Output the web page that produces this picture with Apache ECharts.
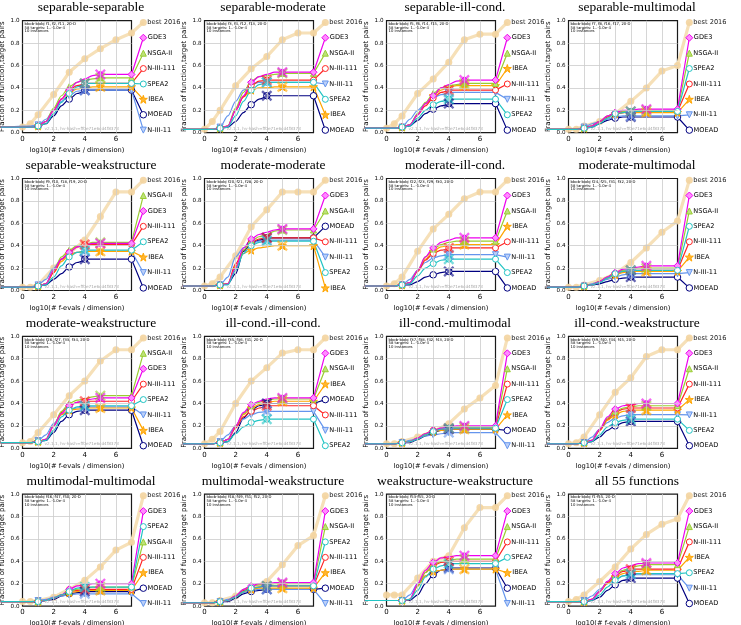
<!DOCTYPE html>
<html>
<head>
<meta charset="utf-8">
<script src="https://cdn.jsdelivr.net/npm/echarts@6/dist/echarts.min.js"></script>
<style>
html,body{margin:0;padding:0;background:#fff;}
#main{width:741px;height:625px;}
</style>
</head>
<body>
<div id="main"></div>
<script>
// x positions (log10 evals/dim) of the sampled curve points
var XS = [-1.4, 0.5, 1, 1.5, 2, 2.5, 3, 3.5, 4, 4.5, 5];
var XB = [0, 0.5, 1, 2, 3, 4, 5, 6, 7];
var PLATEAU_X = 7, LEGEND_X = 7.76;
var legendY = [0.985, 0.848, 0.71, 0.573, 0.435, 0.298, 0.16, 0.023];
var gridX = [1, 2, 3, 4, 5, 6];
var gridY = [0.2, 0.4, 0.6, 0.8];

var titles = ['separable-separable','separable-moderate','separable-ill-cond.','separable-multimodal',
  'separable-weakstructure','moderate-moderate','moderate-ill-cond.','moderate-multimodal',
  'moderate-weakstructure','ill-cond.-ill-cond.','ill-cond.-multimodal','ill-cond.-weakstructure',
  'multimodal-multimodal','multimodal-weakstructure','weakstructure-weakstructure','all 55 functions'];
var funcs = ['f1, f2, f11','f3, f4, f12, f13','f5, f6, f14, f15','f7, f8, f16, f17',
  'f9, f10, f18, f19','f20, f21, f28','f22, f23, f29, f30','f24, f25, f31, f32',
  'f26, f27, f33, f34','f35, f36, f41','f37, f38, f42, f43','f39, f40, f44, f45',
  'f46, f47, f50','f48, f49, f51, f52','f53-f55','f1-f55'];

var legendOrder = [
  ['best 2016','GDE3','NSGA-II','N-III-111','SPEA2','IBEA','MOEAD','N-III-11'],
  ['best 2016','GDE3','NSGA-II','N-III-111','N-III-11','SPEA2','IBEA','MOEAD'],
  ['best 2016','GDE3','NSGA-II','IBEA','N-III-111','N-III-11','SPEA2','MOEAD'],
  ['best 2016','GDE3','NSGA-II','SPEA2','N-III-111','IBEA','N-III-11','MOEAD'],
  ['best 2016','NSGA-II','GDE3','N-III-111','SPEA2','IBEA','N-III-11','MOEAD'],
  ['best 2016','GDE3','NSGA-II','MOEAD','N-III-111','N-III-11','SPEA2','IBEA'],
  ['best 2016','GDE3','NSGA-II','IBEA','N-III-111','N-III-11','SPEA2','MOEAD'],
  ['best 2016','GDE3','NSGA-II','SPEA2','N-III-111','IBEA','N-III-11','MOEAD'],
  ['best 2016','NSGA-II','GDE3','N-III-111','SPEA2','N-III-11','IBEA','MOEAD'],
  ['best 2016','GDE3','NSGA-II','IBEA','MOEAD','N-III-111','N-III-11','SPEA2'],
  ['best 2016','GDE3','NSGA-II','N-III-111','SPEA2','IBEA','MOEAD','N-III-11'],
  ['best 2016','GDE3','NSGA-II','N-III-111','IBEA','N-III-11','SPEA2','MOEAD'],
  ['best 2016','GDE3','SPEA2','NSGA-II','N-III-111','IBEA','MOEAD','N-III-11'],
  ['best 2016','GDE3','NSGA-II','SPEA2','N-III-111','IBEA','MOEAD','N-III-11'],
  ['best 2016','GDE3','NSGA-II','N-III-111','SPEA2','IBEA','MOEAD','N-III-11'],
  ['best 2016','GDE3','NSGA-II','N-III-111','IBEA','SPEA2','N-III-11','MOEAD']
];

// best 2016 at XB
var best2016 = [
  [0.05,0.08,0.16,0.34,0.54,0.66,0.75,0.83,0.89],
  [0.03,0.1,0.2,0.42,0.57,0.68,0.83,0.89,0.89],
  [0.04,0.08,0.15,0.35,0.48,0.63,0.83,0.88,0.88],
  [0.03,0.03,0.06,0.1,0.17,0.28,0.4,0.55,0.6],
  [0.03,0.03,0.05,0.2,0.33,0.45,0.66,0.88,0.88],
  [0.04,0.06,0.12,0.31,0.57,0.72,0.88,0.88,0.88],
  [0.04,0.06,0.12,0.35,0.55,0.68,0.82,0.88,0.88],
  [0.03,0.03,0.05,0.09,0.15,0.25,0.38,0.52,0.62],
  [0.05,0.06,0.14,0.3,0.47,0.6,0.78,0.88,0.88],
  [0.04,0.08,0.15,0.4,0.6,0.72,0.85,0.88,0.88],
  [0.04,0.04,0.06,0.1,0.15,0.22,0.35,0.45,0.56],
  [0.04,0.05,0.1,0.3,0.5,0.63,0.82,0.88,0.88],
  [0.04,0.04,0.05,0.08,0.15,0.23,0.35,0.5,0.57],
  [0.03,0.03,0.05,0.09,0.16,0.22,0.37,0.54,0.63],
  [0.1,0.1,0.1,0.25,0.4,0.45,0.7,0.88,0.88],
  [0.04,0.06,0.1,0.22,0.35,0.51,0.64,0.73,0.78]
];

// algorithms at XS (11 values = budget 1e5, 9 values = budget 1e4)
var gde3 = [
  [0.05,0.05,0.06,0.1,0.2,0.3,0.38,0.45,0.48,0.51,0.52],
  [0.03,0.03,0.04,0.06,0.2,0.33,0.45,0.5,0.52,0.54,0.54],
  [0.04,0.04,0.05,0.07,0.16,0.26,0.33,0.4,0.43,0.46,0.47],
  [0.03,0.03,0.04,0.06,0.1,0.15,0.18,0.2,0.2,0.21,0.21],
  [0.03,0.03,0.04,0.06,0.18,0.28,0.34,0.39,0.41,0.42,0.42],
  [0.04,0.04,0.05,0.06,0.2,0.38,0.46,0.5,0.52,0.54,0.55],
  [0.04,0.04,0.05,0.07,0.18,0.3,0.38,0.43,0.45,0.47,0.47],
  [0.03,0.03,0.04,0.05,0.08,0.12,0.16,0.19,0.2,0.21,0.22],
  [0.05,0.05,0.06,0.08,0.2,0.31,0.38,0.41,0.43,0.44,0.45],
  [0.04,0.04,0.05,0.08,0.2,0.32,0.39,0.42,0.44,0.45,0.45],
  [0.04,0.04,0.05,0.06,0.09,0.13,0.16,0.18,0.19,0.2,0.2],
  [0.04,0.04,0.05,0.07,0.17,0.28,0.35,0.38,0.39,0.4,0.4],
  [0.04,0.04,0.04,0.05,0.07,0.1,0.15,0.18,0.19,0.2,0.2],
  [0.03,0.03,0.04,0.05,0.09,0.15,0.18,0.2,0.2,0.21,0.21],
  [0.05,0.05,0.05,0.06,0.2,0.32,0.39,0.43,0.44,0.45,0.45],
  [0.04,0.04,0.04,0.06,0.13,0.22,0.29,0.34,0.36,0.38,0.385]
];
var nsga2 = [
  [0.05,0.05,0.06,0.1,0.22,0.33,0.41,0.45,0.47,0.48,0.49],
  [0.03,0.03,0.04,0.06,0.22,0.36,0.46,0.5,0.51,0.52,0.53],
  [0.04,0.04,0.05,0.07,0.17,0.27,0.35,0.4,0.42,0.43,0.44],
  [0.03,0.03,0.04,0.06,0.1,0.15,0.18,0.19,0.2,0.2,0.2],
  [0.03,0.03,0.04,0.06,0.18,0.3,0.36,0.4,0.41,0.43,0.43],
  [0.04,0.04,0.05,0.06,0.2,0.36,0.44,0.48,0.5,0.53,0.54],
  [0.04,0.04,0.05,0.07,0.18,0.3,0.37,0.41,0.43,0.44,0.44],
  [0.03,0.03,0.04,0.05,0.08,0.12,0.16,0.18,0.19,0.2,0.2],
  [0.05,0.05,0.06,0.08,0.2,0.33,0.4,0.43,0.44,0.46,0.47],
  [0.04,0.04,0.05,0.08,0.2,0.31,0.38,0.41,0.43,0.44,0.44],
  [0.04,0.04,0.05,0.06,0.09,0.13,0.16,0.18,0.19,0.19,0.19],
  [0.04,0.04,0.05,0.07,0.17,0.27,0.33,0.36,0.37,0.38,0.38],
  [0.04,0.04,0.04,0.05,0.07,0.1,0.13,0.15,0.16,0.17,0.17],
  [0.03,0.03,0.04,0.05,0.09,0.15,0.18,0.19,0.19,0.2,0.2],
  [0.05,0.05,0.05,0.06,0.18,0.3,0.37,0.4,0.41,0.42,0.42],
  [0.04,0.04,0.04,0.06,0.13,0.22,0.28,0.32,0.34,0.36,0.37]
];
var ibea = [
  [0.05,0.05,0.06,0.1,0.2,0.3,0.36,0.39,0.4,0.41,0.41],
  [0.03,0.03,0.04,0.06,0.2,0.32,0.38,0.4,0.4,0.41,0.41],
  [0.04,0.04,0.05,0.07,0.16,0.26,0.33,0.38,0.41,0.42,0.42],
  [0.03,0.03,0.04,0.06,0.1,0.14,0.17,0.18,0.18,0.18,0.18],
  [0.03,0.03,0.04,0.06,0.16,0.26,0.32,0.34,0.35,0.35,0.35],
  [0.04,0.04,0.05,0.06,0.22,0.33,0.36,0.38,0.39,0.4,0.4],
  [0.04,0.04,0.05,0.07,0.17,0.28,0.35,0.39,0.4,0.41,0.41],
  [0.03,0.03,0.04,0.05,0.08,0.11,0.14,0.16,0.17,0.17,0.17],
  [0.05,0.05,0.06,0.08,0.2,0.3,0.34,0.35,0.36,0.36,0.36],
  [0.04,0.04,0.05,0.08,0.2,0.3,0.36,0.39,0.41,0.42,0.42],
  [0.04,0.04,0.05,0.06,0.09,0.12,0.15,0.16,0.17,0.17,0.17],
  [0.04,0.04,0.05,0.07,0.16,0.25,0.3,0.33,0.34,0.34,0.34],
  [0.04,0.04,0.04,0.05,0.07,0.1,0.12,0.13,0.14,0.14,0.14],
  [0.03,0.03,0.04,0.05,0.08,0.13,0.15,0.16,0.16,0.16,0.16],
  [0.05,0.05,0.05,0.06,0.18,0.27,0.31,0.32,0.33,0.33,0.33],
  [0.04,0.04,0.04,0.06,0.13,0.2,0.26,0.29,0.31,0.31,0.32]
];
var n3_111 = [
  [0.05,0.05,0.06,0.1,0.2,0.3,0.38,0.42,0.44],
  [0.03,0.03,0.04,0.06,0.2,0.32,0.42,0.46,0.47],
  [0.04,0.04,0.05,0.07,0.16,0.24,0.31,0.36,0.38],
  [0.03,0.03,0.04,0.06,0.1,0.14,0.17,0.18,0.19],
  [0.03,0.03,0.04,0.06,0.16,0.28,0.34,0.39,0.41],
  [0.04,0.04,0.05,0.06,0.24,0.36,0.43,0.46,0.47],
  [0.04,0.04,0.05,0.07,0.17,0.27,0.33,0.36,0.38],
  [0.03,0.03,0.04,0.05,0.08,0.12,0.15,0.17,0.18],
  [0.05,0.05,0.06,0.08,0.2,0.32,0.38,0.41,0.42],
  [0.04,0.04,0.05,0.08,0.18,0.28,0.33,0.36,0.38],
  [0.04,0.04,0.05,0.06,0.09,0.13,0.16,0.17,0.18],
  [0.04,0.04,0.05,0.07,0.16,0.26,0.32,0.35,0.36],
  [0.04,0.04,0.04,0.05,0.07,0.1,0.13,0.14,0.15],
  [0.03,0.03,0.04,0.05,0.09,0.14,0.16,0.17,0.18],
  [0.05,0.05,0.05,0.06,0.18,0.3,0.36,0.39,0.4],
  [0.04,0.04,0.04,0.06,0.13,0.21,0.27,0.31,0.33]
];
var spea2 = [
  [0.05,0.05,0.06,0.08,0.17,0.27,0.35,0.41,0.44],
  [0.03,0.03,0.04,0.05,0.15,0.28,0.38,0.43,0.45],
  [0.04,0.04,0.05,0.06,0.13,0.2,0.25,0.28,0.3],
  [0.03,0.03,0.04,0.05,0.08,0.13,0.17,0.18,0.19],
  [0.03,0.03,0.04,0.05,0.12,0.22,0.3,0.34,0.36],
  [0.04,0.04,0.05,0.05,0.18,0.33,0.4,0.43,0.44],
  [0.04,0.04,0.05,0.06,0.13,0.2,0.24,0.27,0.28],
  [0.03,0.03,0.04,0.05,0.07,0.11,0.15,0.17,0.18],
  [0.05,0.05,0.06,0.07,0.16,0.28,0.34,0.37,0.38],
  [0.04,0.04,0.05,0.06,0.13,0.19,0.23,0.25,0.26],
  [0.04,0.04,0.05,0.06,0.08,0.12,0.15,0.17,0.18],
  [0.04,0.04,0.05,0.06,0.12,0.19,0.23,0.25,0.26],
  [0.04,0.04,0.04,0.05,0.07,0.1,0.13,0.16,0.17],
  [0.03,0.03,0.04,0.05,0.08,0.13,0.16,0.17,0.18],
  [0.05,0.05,0.05,0.06,0.14,0.26,0.33,0.36,0.38],
  [0.04,0.04,0.04,0.05,0.1,0.17,0.23,0.27,0.29]
];
var moead = [
  [0.05,0.05,0.06,0.08,0.15,0.24,0.3,0.35,0.38],
  [0.03,0.03,0.04,0.05,0.1,0.18,0.25,0.3,0.33],
  [0.04,0.04,0.05,0.06,0.11,0.17,0.21,0.24,0.26],
  [0.03,0.03,0.04,0.05,0.08,0.11,0.13,0.14,0.14],
  [0.03,0.03,0.04,0.05,0.1,0.15,0.21,0.25,0.28],
  [0.04,0.04,0.05,0.06,0.15,0.35,0.42,0.45,0.47],
  [0.04,0.04,0.05,0.05,0.08,0.12,0.14,0.16,0.17],
  [0.03,0.03,0.04,0.05,0.06,0.08,0.1,0.11,0.12],
  [0.05,0.05,0.06,0.07,0.14,0.24,0.3,0.33,0.34],
  [0.04,0.04,0.05,0.06,0.14,0.27,0.34,0.38,0.4],
  [0.04,0.04,0.05,0.05,0.08,0.11,0.14,0.16,0.17],
  [0.04,0.04,0.05,0.06,0.1,0.16,0.2,0.23,0.24],
  [0.04,0.04,0.04,0.05,0.06,0.09,0.11,0.12,0.13],
  [0.03,0.03,0.04,0.04,0.07,0.11,0.13,0.14,0.15],
  [0.05,0.05,0.05,0.05,0.1,0.2,0.28,0.32,0.34],
  [0.04,0.04,0.04,0.05,0.08,0.14,0.19,0.23,0.25]
];
var n3_11 = [
  [0.05,0.06,0.07,0.12,0.2,0.28,0.33,0.37,0.38],
  [0.03,0.03,0.05,0.15,0.28,0.38,0.43,0.45,0.45],
  [0.04,0.04,0.05,0.12,0.2,0.26,0.31,0.34,0.36],
  [0.03,0.03,0.05,0.08,0.1,0.12,0.14,0.15,0.15],
  [0.03,0.03,0.05,0.1,0.2,0.28,0.32,0.34,0.35],
  [0.04,0.04,0.05,0.12,0.3,0.38,0.42,0.44,0.45],
  [0.04,0.04,0.05,0.1,0.18,0.25,0.29,0.31,0.32],
  [0.03,0.03,0.04,0.06,0.08,0.1,0.12,0.14,0.15],
  [0.05,0.05,0.07,0.12,0.22,0.3,0.34,0.36,0.37],
  [0.04,0.04,0.06,0.12,0.2,0.26,0.3,0.32,0.33],
  [0.04,0.04,0.05,0.07,0.09,0.11,0.12,0.13,0.14],
  [0.04,0.04,0.05,0.1,0.17,0.23,0.27,0.29,0.3],
  [0.04,0.04,0.05,0.06,0.08,0.09,0.1,0.11,0.11],
  [0.03,0.03,0.04,0.06,0.09,0.12,0.14,0.15,0.15],
  [0.05,0.05,0.05,0.1,0.2,0.27,0.3,0.32,0.33],
  [0.04,0.04,0.05,0.09,0.15,0.2,0.24,0.27,0.28]
];

var STAR = 'path://M5,0 L6.2,3.6 L10,3.6 L7,5.9 L8.1,9.5 L5,7.3 L1.9,9.5 L3,5.9 L0,3.6 L3.8,3.6 Z';
var TRI_DOWN = 'path://M0,0 L10,0 L5,9 Z';
var CROSS = 'path://M0,1.5 L1.5,0 L5,3.5 L8.5,0 L10,1.5 L6.5,5 L10,8.5 L8.5,10 L5,6.5 L1.5,10 L0,8.5 L3.5,5 Z';

// draw order, last on top
var algos = ['MOEAD','N-III-11','IBEA','N-III-111','NSGA-II','GDE3','SPEA2'];
var styles = {
  'GDE3':      {vals: gde3,   color:'#ee00ee', fill:'#ff8cff', symbol:'diamond', size:7},
  'NSGA-II':   {vals: nsga2,  color:'#9acd32', fill:'#bde27a', symbol:'triangle', size:6},
  'N-III-111': {vals: n3_111, color:'#ff2424', fill:'#ffffff', symbol:'circle', size:6},
  'SPEA2':     {vals: spea2,  color:'#22c4c4', fill:'#ffffff', symbol:'circle', size:6},
  'IBEA':      {vals: ibea,   color:'#ffa500', fill:'#ffb733', symbol:STAR, size:8},
  'MOEAD':     {vals: moead,  color:'#000080', fill:'#ffffff', symbol:'circle', size:6.5},
  'N-III-11':  {vals: n3_11,  color:'#6495ed', fill:'#bcd0f8', symbol:TRI_DOWN, size:6}
};

// x axis runs -2..9 so the lines that leave the frame are not clipped
var X_MIN = -2, X_MAX = 9;
var COL0 = 22.5, COLSTEP = 182, ROW0 = 20.7, ROWSTEP = 157.8, PH = 112;
var UNIT = 109 / 7;
var FONT = 'DejaVu Sans';

function evenLabel(v){ return (v >= 0 && v <= 6 && v % 2 === 0) ? String(v) : ''; }
function oneDecimal(v){ return v.toFixed(1); }
function legendLabel(){
  return {show:false, position:'right', distance:0.5, fontSize:6.6, fontFamily:FONT, color:'#000', formatter:'{a}'};
}

function buildOption(){
  var grids = [], xAxes = [], yAxes = [], series = [], graphics = [];

  for (var p = 0; p < 16; p++) {
    var col = p % 4, row = Math.floor(p / 4);
    var x0 = COL0 + COLSTEP * col, gTop = ROW0 + ROWSTEP * row;

    grids.push({left:x0 + X_MIN * UNIT, top:gTop, width:(X_MAX - X_MIN) * UNIT, height:PH,
      show:false, containLabel:false, outerBoundsMode:'none'});
    xAxes.push({
      type:'value', gridIndex:p, min:X_MIN, max:X_MAX, interval:1,
      axisLine:{show:false}, axisTick:{show:false}, splitLine:{show:false},
      axisLabel:{fontSize:7, fontFamily:FONT, color:'#000', margin:3, formatter:evenLabel},
      name:'log10(# f-evals / dimension)', nameLocation:'middle', nameGap:14,
      nameTextStyle:{fontSize:6.7, fontFamily:FONT, color:'#000'}
    });
    yAxes.push({
      type:'value', gridIndex:p, min:0, max:1, interval:0.2, offset:X_MIN * UNIT,
      axisLine:{show:false}, axisTick:{show:false}, splitLine:{show:false},
      axisLabel:{fontSize:5.6, fontFamily:FONT, color:'#000', margin:3, formatter:oneDecimal},
      name:'Fraction of function,target pairs', nameLocation:'middle', nameGap:17, nameRotate:90,
      nameTextStyle:{fontSize:7, fontFamily:FONT, color:'#000'}
    });

    //title and tiny annotations
    graphics.push({type:'text', x:x0 + 68.5, y:gTop - 13, silent:true,
      style:{text:titles[p], font:'13.5px "Liberation Serif"', fill:'#000', align:'center', verticalAlign:'middle'}});
    graphics.push({type:'text', x:x0 + 2, y:gTop + 1.5, silent:true, z:10,
      style:{text:'bbob-biobj ' + funcs[p] + ', 20-D\n58 targets: 1..-1.0e-4\n10 instances', font:'3.8px "DejaVu Sans"', lineHeight:3.7, fill:'#000'}});
    graphics.push({type:'text', x:x0 + 22, y:gTop + PH - 6, silent:true, z:10,
      style:{text:'v2.1.1, hv-hash=ff0e71e6cd4f8373', font:'4.2px "DejaVu Sans"', fill:'#aaaaaa'}});

    // grid lines and frame, only over 0..7 x 0..1
    var gl = [];
    for (var gx = 0; gx < gridX.length; gx++) gl.push([{coord:[gridX[gx], 0]}, {coord:[gridX[gx], 1]}]);
    for (var gy = 0; gy < gridY.length; gy++) gl.push([{coord:[0, gridY[gy]]}, {coord:[PLATEAU_X, gridY[gy]]}]);
    series.push({
      type:'line', name:'frame', xAxisIndex:p, yAxisIndex:p, silent:true, z:0, data:[],
      markLine:{silent:true, symbol:['none','none'], label:{show:false}, animation:false,
        lineStyle:{color:'#cccccc', width:0.8, type:'solid'}, data:gl},
      markArea:{silent:true, animation:false, label:{show:false},
        itemStyle:{color:'rgba(0,0,0,0)', borderColor:'#1a1a1a', borderWidth:1.2},
        data:[[{coord:[0, 0]}, {coord:[PLATEAU_X, 1]}]]}
    });

    // best 2016
    var bd = [];
    for (var i = 0; i < XB.length; i++) bd.push([XB[i], best2016[p][i]]);
    bd.push({value:[LEGEND_X, legendY[legendOrder[p].indexOf('best 2016')]], label:{show:true}});
    series.push({
      type:'line', name:'best 2016', xAxisIndex:p, yAxisIndex:p, clip:false, silent:true, z:1,
      data:bd, symbol:'circle', symbolSize:7, showAllSymbol:true,
      lineStyle:{color:'#f6e0b8', width:3.2},
      itemStyle:{color:'#f3d4a0', opacity:0.9},
      label:legendLabel()
    });

    var crosses = [];
    for (var a = 0; a < algos.length; a++) {
      var algName = algos[a], st = styles[algName], v = st.vals[p];
      var last = v[v.length - 1], bx = XS[v.length - 1];
      var curve = [];
      for (var k = 0; k < v.length; k++) {
        var item = {value:[XS[k], v[k]]};
        if (k !== 2 && k !== 6 && k !== v.length - 1) item.symbol = 'none';
        curve.push(item);
      }
      series.push({
        type:'line', name:algName, xAxisIndex:p, yAxisIndex:p, clip:false, silent:true, z:2,
        data:curve, smooth:0.3, smoothMonotone:'x', symbol:st.symbol, symbolSize:st.size, showAllSymbol:true,
        lineStyle:{color:st.color, width:1.2},
        itemStyle:{color:st.fill, borderColor:st.color, borderWidth:1}
      });
      // flat part up to the frame, then to the legend entry
      series.push({
        type:'line', name:algName, xAxisIndex:p, yAxisIndex:p, clip:false, silent:true, z:2,
        data:[{value:[bx, last], symbol:'none'}, [PLATEAU_X, last],
          {value:[LEGEND_X, legendY[legendOrder[p].indexOf(algName)]], label:{show:true}}],
        symbol:st.symbol, symbolSize:st.size, showAllSymbol:true,
        lineStyle:{color:st.color, width:1.2},
        itemStyle:{color:st.fill, borderColor:st.color, borderWidth:1},
        label:legendLabel()
      });
      crosses.push({value:[bx, last], itemStyle:{color:st.color}});
    }
    // budget crosses
    series.push({
      type:'scatter', name:'budget', xAxisIndex:p, yAxisIndex:p, silent:true, z:3,
      data:crosses, symbol:CROSS, symbolSize:11, itemStyle:{opacity:0.6}
    });
  }

  return {
    animation:false,
    backgroundColor:'#ffffff',
    grid:grids,
    xAxis:xAxes,
    yAxis:yAxes,
    graphic:graphics,
    series:series
  };
}

var myChart = echarts.init(document.getElementById('main'), null, {renderer:'canvas'});
myChart.setOption(buildOption());
</script>
</body>
</html>
